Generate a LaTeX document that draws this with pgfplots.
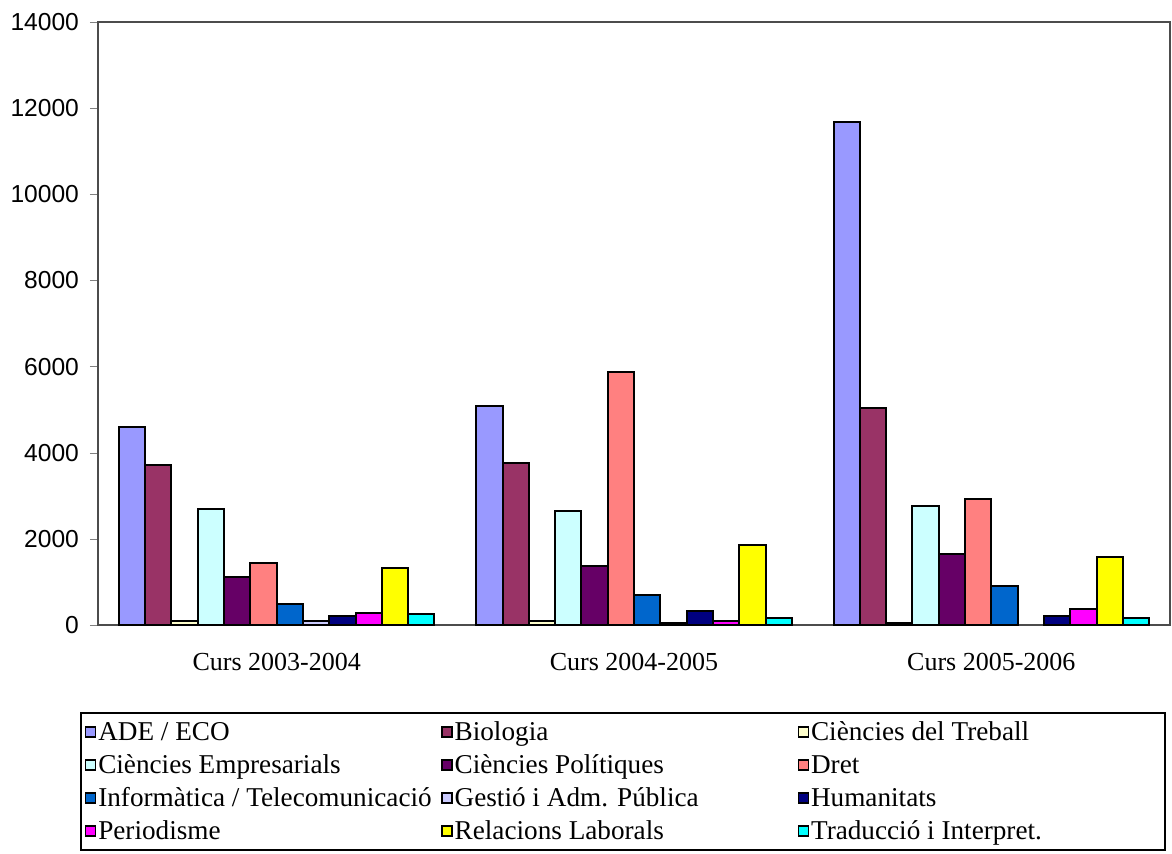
\documentclass[border=0pt]{standalone}
\usepackage{pgfplots}
\pgfplotsset{compat=1.18}
\usepackage{fontspec}
\setmainfont{Liberation Serif}
\setsansfont{Liberation Sans}
\definecolor{cADE}{HTML}{9999FF}
\definecolor{cBio}{HTML}{993366}
\definecolor{cTre}{HTML}{FFFFCC}
\definecolor{cEmp}{HTML}{CCFFFF}
\definecolor{cPol}{HTML}{660066}
\definecolor{cDre}{HTML}{FF8080}
\definecolor{cInf}{HTML}{0066CC}
\definecolor{cGes}{HTML}{CCCCFF}
\definecolor{cHum}{HTML}{000080}
\definecolor{cPer}{HTML}{FF00FF}
\definecolor{cRel}{HTML}{FFFF00}
\definecolor{cTra}{HTML}{00FFFF}
\newcommand{\lgent}[1]{\makebox[170.5pt][l]{\strut #1}}
\newcommand{\lgentw}[1]{\makebox[174pt][l]{\strut #1}}
\begin{document}
\begin{tikzpicture}
\begin{axis}[name=ax, scale only axis, width=536pt, height=301.5pt,
 ybar=0pt, bar width=13.15pt,
 xmin=-0.5, xmax=2.5, ymin=0, ymax=14000,
 xtick={0,1,2}, xticklabels={Curs 2003-2004, Curs 2004-2005, Curs 2005-2006},
 x tick style={draw=none},
 ytick={0,2000,...,14000},
 scaled y ticks=false,
 yticklabel style={font=\sffamily\fontsize{12.3}{14}\selectfont, xshift=-2pt, /pgf/number format/1000 sep={}, /pgf/number format/assume math mode=true},
 xticklabel style={font=\fontsize{13}{15}\selectfont, yshift=-6.5pt},
 ytick align=outside, ytick pos=left, major tick length=4pt,
 axis line style={black!70, line width=0.8pt},
 legend columns=3, legend cell align=left,
 legend style={at={(-0.0168,-0.1443)}, anchor=north west, draw=black, line width=0.9pt, font=\fontsize{13.6}{15}\selectfont, row sep=4.5pt, inner xsep=2pt, inner ysep=3.5pt, nodes={inner xsep=1pt, inner ysep=0pt}},
 legend image code/.code={\draw[#1, draw=black, line width=0.7pt] (0pt,-2.5pt) rectangle (5pt,2.5pt);},
 every axis plot/.append style={draw=black, line width=1pt},
]
\addplot[fill=cADE] coordinates {(0,4600) (1,5090) (2,11680)};
\addlegendentry{\lgent{ADE / ECO}}
\addplot[fill=cBio] coordinates {(0,3720) (1,3770) (2,5030)};
\addlegendentry{\lgent{Biologia}}
\addplot[fill=cTre] coordinates {(0,100) (1,100) (2,50)};
\addlegendentry{\lgentw{Ciències del Treball}}
\addplot[fill=cEmp] coordinates {(0,2700) (1,2650) (2,2755)};
\addlegendentry{\lgent{Ciències Empresarials}}
\addplot[fill=cPol] coordinates {(0,1110) (1,1380) (2,1650)};
\addlegendentry{\lgent{Ciències Polítiques}}
\addplot[fill=cDre] coordinates {(0,1430) (1,5880) (2,2920)};
\addlegendentry{\lgentw{Dret}}
\addplot[fill=cInf] coordinates {(0,480) (1,690) (2,900)};
\addlegendentry{\lgent{Informàtica / Telecomunicació}}
\addplot[fill=cGes] coordinates {(0,90) (1,40)};
\addlegendentry{\lgent{Gestió i Adm. Pública}}
\addplot[fill=cHum] coordinates {(0,210) (1,325) (2,215)};
\addlegendentry{\lgentw{Humanitats}}
\addplot[fill=cPer] coordinates {(0,270) (1,95) (2,370)};
\addlegendentry{\lgent{Periodisme}}
\addplot[fill=cRel] coordinates {(0,1315) (1,1855) (2,1585)};
\addlegendentry{\lgent{Relacions Laborals}}
\addplot[fill=cTra] coordinates {(0,260) (1,155) (2,155)};
\addlegendentry{\lgentw{Traducció i Interpret.}}
\end{axis}
\pgfresetboundingbox
\path[use as bounding box] ([xshift=-49pt,yshift=-114pt]ax.south west) rectangle ([xshift=1pt,yshift=11pt]ax.north east);
\end{tikzpicture}
\end{document}
